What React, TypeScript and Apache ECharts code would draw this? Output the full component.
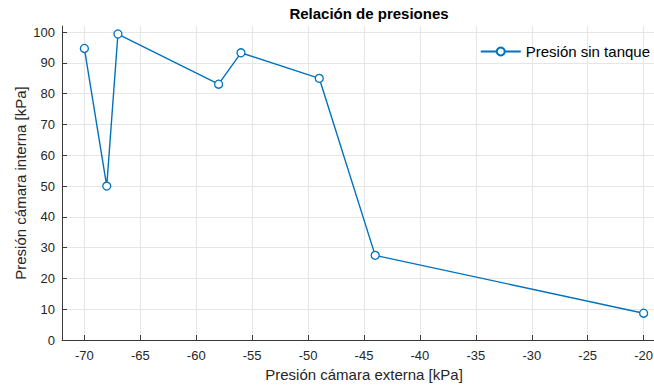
import React, { useEffect, useRef } from "react";
import * as echarts from "echarts";

const xValues = [-70, -68, -67, -58, -56, -49, -44, -20];
const yValues = [94.7, 50, 99.4, 83.1, 93.3, 85, 27.5, 8.7];
const xTicks = [-70, -65, -60, -55, -50, -45, -40, -35, -30, -25, -20];
const yTicks = [0, 10, 20, 30, 40, 50, 60, 70, 80, 90, 100];
const seriesName = "Presión sin tanque";

export default function App() {
  const ref = useRef<HTMLDivElement>(null);
  useEffect(() => {
    const chart = echarts.init(ref.current!, null, { renderer: "svg" });
    const font = "'Liberation Sans', Arial, sans-serif";
    const textColor = "#262626";
    const axisColor = "#3a3a3a";
    const gridColor = "#e6e6e6";
    chart.setOption({
      animation: false,
      textStyle: { fontFamily: font },
      title: {
        text: "Relación de presiones",
        left: 364,
        textAlign: "center",
        top: 1,
        textStyle: { fontSize: 15, fontWeight: "bold", color: "#000", fontFamily: font },
      },
      legend: {
        right: 15,
        top: 39,
        itemWidth: 40,
        itemHeight: 10,
        itemGap: 4,
        textStyle: { fontSize: 15, color: "#000", fontFamily: font },
        data: [{ name: seriesName }],
      },
      grid: { left: 62, right: 4, top: 26, bottom: 44, containLabel: false },
      xAxis: {
        type: "value",
        min: -72,
        max: -18,
        name: "Presión cámara externa [kPa]",
        nameLocation: "middle",
        nameGap: 27,
        nameMoveOverlap: false,
        nameTextStyle: { fontSize: 15, color: textColor, fontFamily: font },
        axisLine: { show: true, lineStyle: { color: axisColor, width: 1 } },
        axisTick: { show: true, inside: true, length: 5, customValues: xTicks, lineStyle: { color: axisColor } },
        axisLabel: { customValues: xTicks, fontSize: 13, color: textColor, margin: 9, fontFamily: font },
        splitLine: { show: true, lineStyle: { color: gridColor, width: 1 } },
      },
      yAxis: {
        type: "value",
        min: 0,
        max: 102,
        name: "Presión cámara interna [kPa]",
        nameLocation: "middle",
        nameGap: 34,
        nameMoveOverlap: false,
        nameTextStyle: { fontSize: 15, color: textColor, fontFamily: font },
        axisLine: { show: true, lineStyle: { color: axisColor, width: 1 } },
        axisTick: { show: true, inside: true, length: 5, customValues: yTicks, lineStyle: { color: axisColor } },
        axisLabel: { customValues: yTicks, fontSize: 13, color: textColor, margin: 7, fontFamily: font },
        splitLine: { show: true, lineStyle: { color: gridColor, width: 1 } },
      },
      series: [
        {
          name: seriesName,
          type: "line",
          data: xValues.map((x, i) => [x, yValues[i]]),
          symbol: "circle",
          symbolSize: 8,
          showAllSymbol: true,
          itemStyle: { color: "#ffffff", borderColor: "#0072BD", borderWidth: 1.3 },
          lineStyle: { color: "#0072BD", width: 1.4 },
          emphasis: { disabled: true },
        },
      ],
    });
    return () => chart.dispose();
  }, []);
  return (
    <div style={{ position: "absolute", left: 0, top: 0, width: 654, height: 387, overflow: "hidden", background: "#fff" }}>
      <div ref={ref} style={{ position: "absolute", left: 0, top: 0, width: 670, height: 387 }} />
    </div>
  );
}
